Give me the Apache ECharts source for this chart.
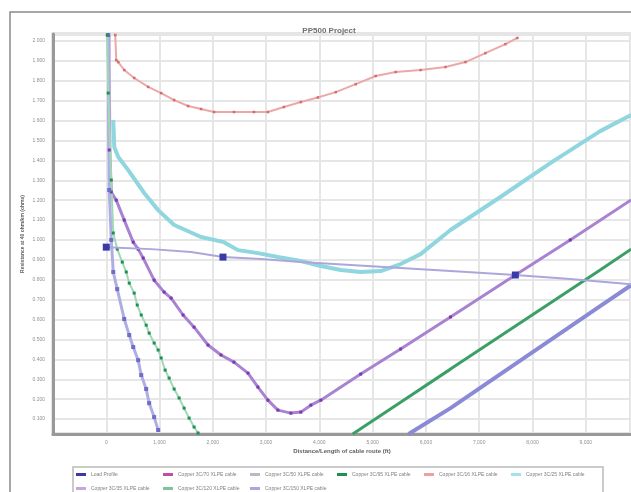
<!DOCTYPE html>
<html>
<head>
<meta charset="utf-8">
<script src="https://cdn.jsdelivr.net/npm/echarts@6/dist/echarts.min.js"></script>
<style>html,body{margin:0;padding:0;background:#fff;}#c{width:631px;height:492px;}</style>
</head>
<body>
<div id="c"></div>
<script>
// ---- tick labels / titles ----
const chartTitle = 'PP500 Project';
const xAxisTitle = 'Distance/Length of cable route (ft)';
const yAxisTitle = 'Resistance at 40 ohm/km (ohms)';
const seriesNames = [
  'Load Profile',
  'Copper 3C/70 XLPE cable',
  'Copper 3C/50 XLPE cable',
  'Copper 3C/95 XLPE cable',
  'Copper 3C/16 XLPE cable',
  'Copper 3C/25 XLPE cable',
  'Copper 3C/35 XLPE cable',
  'Copper 3C/120 XLPE cable',
  'Copper 3C/150 XLPE cable'
];

// ---- series values ----
const loadX = [0, 843, 1592, 2191, 2903, 3652, 4589, 5525, 6462, 7679, 8709, 9852];
const loadY = [0.964, 0.954, 0.939, 0.914, 0.904, 0.889, 0.874, 0.859, 0.844, 0.824, 0.804, 0.778];
const loadMarkerIdx = [0, 3, 9];

const purpleX = [37, 56, 94, 187, 337, 506, 599, 693, 899, 1086, 1217, 1442, 1648, 1910, 2154, 2397, 2660, 2847, 3034, 3222, 3465, 3652, 3840, 4027, 4776, 5525, 6462, 7679, 8709, 9852];
const purpleY = [2.03, 1.452, 1.241, 1.200, 1.100, 0.989, 0.954, 0.909, 0.798, 0.738, 0.708, 0.623, 0.562, 0.472, 0.422, 0.386, 0.331, 0.261, 0.195, 0.145, 0.130, 0.135, 0.170, 0.195, 0.326, 0.452, 0.613, 0.824, 1.000, 1.201];

const lavDescX = [37, 56, 94, 131, 206, 337, 431, 506, 599, 656, 749, 805, 899, 974];
const lavDescY = [2.03, 1.251, 1.000, 0.839, 0.753, 0.603, 0.522, 0.462, 0.396, 0.321, 0.251, 0.180, 0.110, 0.045];

const greenDescX = [19, 37, 94, 131, 206, 300, 375, 431, 524, 581, 656, 749, 805, 899, 974, 1030, 1105, 1180, 1274, 1367, 1461, 1555, 1648, 1723];
const greenDescY = [2.03, 1.738, 1.301, 1.035, 0.954, 0.889, 0.839, 0.783, 0.733, 0.673, 0.623, 0.572, 0.532, 0.482, 0.447, 0.407, 0.346, 0.306, 0.251, 0.206, 0.155, 0.105, 0.060, 0.030];

const redX = [169, 187, 225, 337, 524, 787, 1030, 1274, 1536, 1779, 2023, 2397, 2772, 3034, 3334, 3652, 3971, 4308, 4683, 5057, 5432, 5900, 6368, 6743, 7117, 7492, 7717];
const redY = [2.03, 1.904, 1.894, 1.854, 1.814, 1.769, 1.738, 1.703, 1.673, 1.658, 1.643, 1.643, 1.643, 1.643, 1.668, 1.693, 1.716, 1.743, 1.783, 1.824, 1.844, 1.854, 1.869, 1.894, 1.939, 1.984, 2.015];

const cyanX = [131, 150, 225, 412, 712, 974, 1274, 1779, 2210, 2472, 2847, 3222, 3652, 4027, 4402, 4776, 5151, 5525, 5900, 6462, 7398, 8335, 9271, 9852];
const cyanY = [1.603, 1.467, 1.417, 1.351, 1.236, 1.150, 1.075, 1.015, 0.989, 0.949, 0.934, 0.914, 0.894, 0.869, 0.849, 0.839, 0.844, 0.879, 0.929, 1.050, 1.216, 1.386, 1.547, 1.628];

const lightPurpleX = [56, 60, 75, 94];
const lightPurpleY = [2.03, 1.700, 1.400, 1.230];

const greenAscX = [4626, 5525, 6462, 7398, 8335, 9271, 9852];
const greenAscY = [0.025, 0.185, 0.351, 0.517, 0.683, 0.849, 0.954];

const lavAscX = [5675, 6462, 7398, 8335, 9271, 9852];
const lavAscY = [0.025, 0.155, 0.326, 0.497, 0.668, 0.773];

function pairs(xs, ys) { return xs.map((x, i) => [x, ys[i]]); }

const chart = echarts.init(document.getElementById('c'), null, {renderer: 'canvas'});
const font = 'Liberation Sans, Arial, sans-serif';

function mk(name, xs, ys, lineColor, lineWidth, markColor, markSize, z) {
  return {
    name: name, type: 'line', data: pairs(xs, ys),
    symbol: markSize > 0 ? 'rect' : 'none', symbolSize: markSize,
    showSymbol: markSize > 0,
    lineStyle: {color: lineColor, width: lineWidth},
    itemStyle: {color: markColor},
    z: z || 2, animation: false
  };
}

const loadData = pairs(loadX, loadY).map((p, i) => (
  loadMarkerIdx.indexOf(i) >= 0 ? {value: p, symbol: 'rect', symbolSize: 7} : {value: p, symbol: 'none'}
));

const series = [
  {
    name: seriesNames[0], type: 'line', data: loadData, showSymbol: true,
    lineStyle: {color: '#aca6da', width: 2}, itemStyle: {color: '#3a3aa6'}, z: 5, animation: false
  },
  mk(seriesNames[1], purpleX, purpleY, '#a982d2', 3, '#7a3cb0', 3, 3),
  mk(seriesNames[2], lavDescX, lavDescY, '#aeaee4', 3, '#6e6ec4', 4, 3),
  mk(seriesNames[3], greenDescX, greenDescY, '#a0d8b6', 2, '#1f8f55', 3, 3),
  mk(seriesNames[4], redX, redY, '#eca8a8', 2, '#d46c6c', 2.5, 3),
  mk(seriesNames[5], cyanX, cyanY, '#8fd6de', 4, '#8fd6de', 0, 2),
  mk(seriesNames[6], lightPurpleX, lightPurpleY, '#c4b2e0', 3, '#c4b2e0', 0, 2),
  mk(seriesNames[7], greenAscX, greenAscY, '#3b9f66', 3, '#7cc49a', 0, 3),
  mk(seriesNames[8], lavAscX, lavAscY, '#8a8ad6', 4, '#a8a8e0', 0, 3)
];

const legendColors = ['#3a3aa6', '#c44aa8', '#b8b8c8', '#1f8f55', '#eca0a0', '#a8e0e8', '#c4a8dc', '#7cc49a', '#a8a8e0'];

chart.setOption({
  backgroundColor: '#fff',
  animation: false,
  title: {
    text: chartTitle, left: 324, top: 22, textAlign: 'center',
    textStyle: {fontFamily: font, fontSize: 8, fontWeight: 'bold', color: '#707070'}
  },
  graphic: [
    {type: 'rect', shape: {x: 10, y: 12, width: 640, height: 500}, style: {fill: 'none', stroke: '#8a8a8a', lineWidth: 1.5}, silent: true}
  ],
  grid: {left: 53, top: 34, right: 0, bottom: 58, show: true, borderColor: '#cccccc', borderWidth: 3, backgroundColor: 'transparent'},
  legend: {
    data: seriesNames.map((n, i) => ({name: n, itemStyle: {color: legendColors[i]}})),
    left: 73, top: 467, width: 535,
    orient: 'horizontal', icon: 'rect', itemWidth: 10, itemHeight: 3, itemGap: 5,
    padding: [3, 10, 2, 3],
    borderColor: '#bbbbbb', borderWidth: 1.5, backgroundColor: '#fff',
    textStyle: {fontFamily: font, fontSize: 5, color: '#808080', width: 67, overflow: 'truncate', lineHeight: 9}
  },
  xAxis: {
    type: 'value', min: -1000, max: 9850, interval: 1000,
    name: xAxisTitle, nameLocation: 'middle', nameGap: 14, nameMoveOverlap: false,
    nameTextStyle: {fontFamily: font, fontSize: 6, fontWeight: 'bold', color: '#606060'},
    axisLine: {show: true, onZero: false, lineStyle: {color: '#999999', width: 3}},
    axisTick: {show: false},
    axisLabel: {
      fontFamily: font, fontSize: 5, color: '#909090', margin: 6, showMaxLabel: false,
      formatter: v => v < 0 ? '' : v.toLocaleString('en-US')
    },
    splitLine: {show: true, lineStyle: {color: '#e6e6e6', width: 2}}
  },
  yAxis: {
    type: 'value', min: 0.025, max: 2.035, splitNumber: 20,
    name: yAxisTitle, nameLocation: 'middle', nameGap: 28, nameRotate: 90, nameMoveOverlap: false,
    nameTextStyle: {fontFamily: font, fontSize: 5, fontWeight: 'bold', color: '#606060'},
    axisLine: {show: true, onZero: false, lineStyle: {color: '#999999', width: 3}},
    axisTick: {show: false},
    axisLabel: {
      fontFamily: font, fontSize: 5, color: '#909090', margin: 8, showMinLabel: false, showMaxLabel: false,
      formatter: v => (Math.abs(v * 10 - Math.round(v * 10)) < 1e-6 ? v.toFixed(3) : '')
    },
    splitLine: {show: true, lineStyle: {color: '#e6e6e6', width: 2}}
  },
  series: series
});
</script>
</body>
</html>
